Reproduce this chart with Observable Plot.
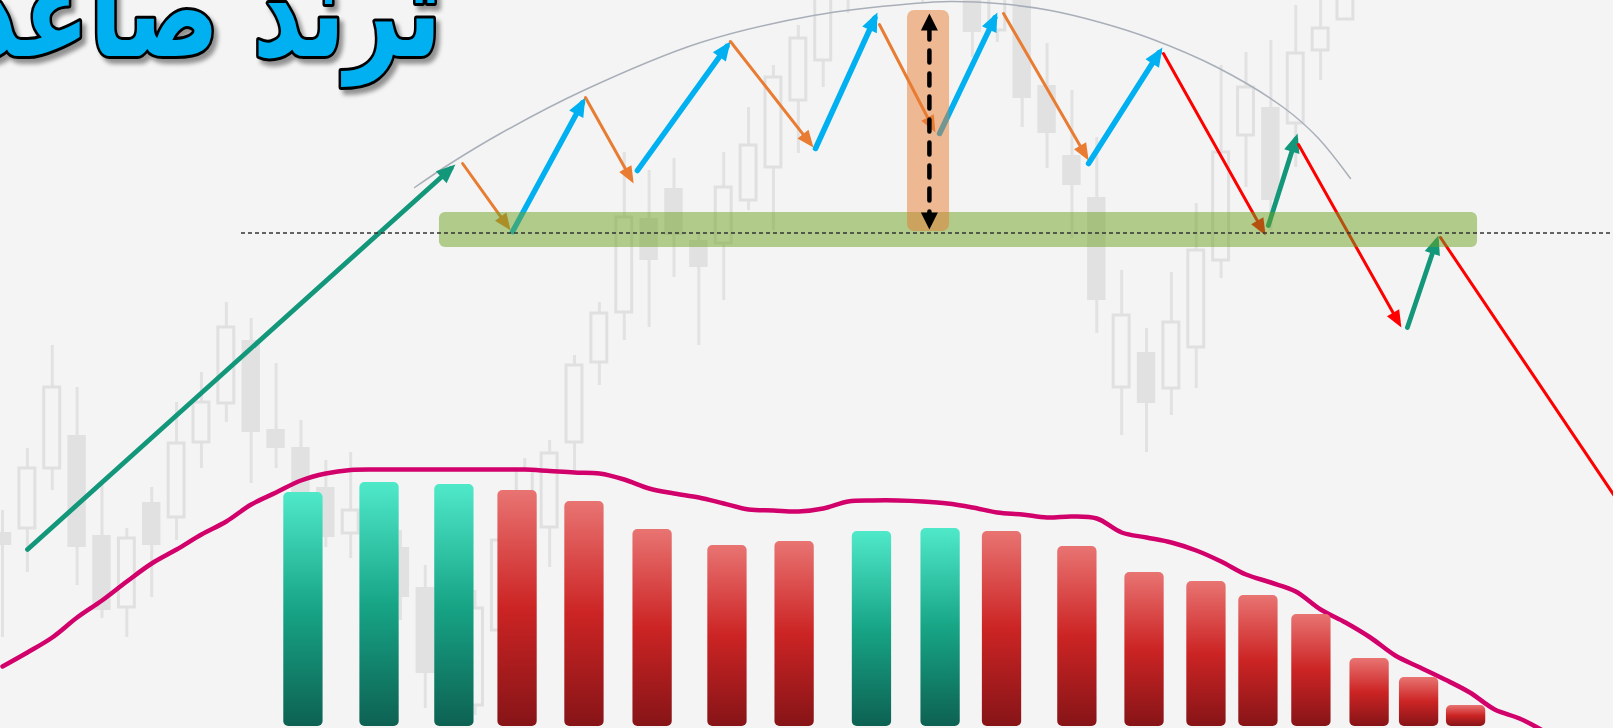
<!DOCTYPE html>
<html>
<head>
<meta charset="utf-8">
<script src="https://cdn.jsdelivr.net/npm/d3@7"></script>
<script src="https://cdn.jsdelivr.net/npm/@observablehq/plot@0.6"></script>
<style>
html,body{margin:0;padding:0;background:#f4f4f4;overflow:hidden}
svg{display:block}
</style>
</head>
<body>
<div id="chart"></div>
<script>
// ---------- data ----------
const titleText = "ترند صاعد";

// candles (index = period), prices in points
const candleOpen  = [196,200,260,293,193,121,226,211,286,325,388,299,281,241,195,133,181,141,48,23,98,188,201,286,366,416,510,540,488,485,528,561,628,668,738,798,788,768,740,738,698,733,643,573,531,341,376,340,381,468,593,621,605,678,709];
const candleClose = [183,260,341,181,118,190,183,285,326,401,296,280,228,191,218,198,131,55,118,120,188,258,275,363,415,511,468,493,461,541,583,651,690,733,768,758,748,736,773,696,743,630,595,543,428,413,325,406,478,576,641,528,675,700,733];
const candleHigh  = [218,280,383,341,248,200,241,326,356,426,410,365,308,268,276,223,198,163,138,138,203,270,288,373,426,576,558,570,495,576,621,663,703,743,778,808,798,778,783,748,753,743,685,638,591,458,400,456,525,663,676,688,723,735,743];
const candleLow   = [91,156,238,143,110,91,131,188,260,306,245,260,213,181,170,98,108,20,28,13,83,168,161,258,343,388,401,451,383,428,518,498,575,641,715,743,733,726,730,671,686,601,560,490,395,293,276,313,340,450,541,498,561,648,709];

// moving average, one value per period
const maValue = [62,76,91,111,128,147,165,179,194,207,224,236,248,255,258.5,259,259,259,259,259,259,259,257.5,256,255,249,240,235,231,225,219,218,217,220,227,228,228,227,225,221,216,214,211,212,210,196,191,186,178,167,154,146,137,119,106,91,73,61,49,36,19,10,-3];

// histogram bars
const barPeriod = [12.10,15.16,18.17,20.71,23.40,26.14,29.15,31.85,34.96,37.72,40.19,43.22,45.92,48.41,50.50,52.63,54.97,56.96,58.85];
const barValue  = [236,246,244,238,227,199,183,187,197,200,197,182,156,147,133,114,70,51,23];
const barRising = [true,true,true,false,false,false,false,false,true,true,false,false,false,false,false,false,false,false,false];

// rounding top (arc)
const arcPeriod = [16.57,18.01,20.02,23.36,28.07,32.61,36.63,38.12,40.13,42.14,44.15,46.16,48.85,51.51,52.88,54.20];
const arcPrice  = [541,565,595,638,686,713,725,727,724.7,718,706,690,661,621,591,550];

// swing arrows
const arrowKind = ["up","pull","swing","pull","swing","pull","swing","pull","swing","pull","swing","drop","up","drop","up","drop"];
const arrowFromPeriod = [1.005,18.50,20.51,23.44,25.53,29.27,32.69,35.26,37.68,40.25,43.67,46.68,50.90,52.11,56.49,57.82];
const arrowFromPrice  = [179,565,497,631,558,687,580,704,595,715,565,675,503,584,401,491];
const arrowToPeriod   = [18.03,20.29,23.32,25.26,29.13,32.46,35.08,37.40,39.90,43.55,46.51,50.67,52.00,56.13,57.66,65.86];
const arrowToPrice    = [560,502.9,625.7,550.2,682.1,585.7,710.5,601.3,710.6,573.2,675.9,498.2,589.3,406.2,487.3,194];

// support zone, level and range measure
const zonePeriod = [17.57, 59.31];
const zonePrice  = [481, 516];
const levelPrice = [495.5];
const levelFrom  = 9.61;
const rangePeriod = [36.39, 38.08];
const rangePrice  = [497, 718];
const measurePeriod = [37.27];
const measurePrice  = [505, 709];

// ---------- tables ----------
const candles = candleOpen.map((o, i) => ({i, o, c: candleClose[i], h: candleHigh[i], l: candleLow[i]}));
const upC = candles.filter(d => d.c >= d.o);
const downC = candles.filter(d => d.c < d.o);
const ma = maValue.map((v, i) => ({i, v}));
const bars = barPeriod.map((t, k) => ({t, v: barValue[k], up: barRising[k]}));
const arc = arcPeriod.map((t, k) => ({t, p: arcPrice[k]}));
const arrows = arrowKind.map((k, j) => ({k, x1: arrowFromPeriod[j], y1: arrowFromPrice[j], x2: arrowToPeriod[j], y2: arrowToPrice[j]}));

const kindColor = {up: "#13977a", swing: "#00b0f0", pull: "#e87c32", drop: "#ff0000"};
const kindWidth = {up: 4.8, swing: 5.5, pull: 3, drop: 3};

const NS = "http://www.w3.org/2000/svg";
function head(len, wid, back) {
  return (color) => {
    const m = document.createElementNS(NS, "marker");
    m.setAttribute("viewBox", `0 ${-wid / 2} ${len} ${wid}`);
    m.setAttribute("markerUnits", "userSpaceOnUse");
    m.setAttribute("markerWidth", len);
    m.setAttribute("markerHeight", wid);
    m.setAttribute("refX", len - back);
    m.setAttribute("refY", 0);
    m.setAttribute("orient", "auto-start-reverse");
    m.setAttribute("overflow", "visible");
    const p = document.createElementNS(NS, "path");
    p.setAttribute("d", `M0,${-wid / 2}L${len},0L0,${wid / 2}Z`);
    p.setAttribute("fill", color);
    p.setAttribute("stroke", "none");
    m.appendChild(p);
    return m;
  };
}
const thickHead = head(19, 16, 6);
const thinHead = head(17, 14, 6);
const arrowHead = (color, ctx) => (color === kindColor.pull || color === kindColor.drop ? thinHead : thickHead)(color, ctx);
const blackHead = head(17, 17, 6);

const svg = Plot.plot({
  width: 1613,
  height: 728,
  margin: 0,
  style: {background: "#f4f4f4"},
  x: {domain: [-0.0804, 64.777], axis: null},
  y: {domain: [0, 728], axis: null},
  color: {domain: Object.keys(kindColor), range: Object.values(kindColor)},
  marks: [
    Plot.ruleX(candles, {x: "i", y1: "l", y2: "h", stroke: "#e2e2e2", strokeWidth: 3, clip: true}),
    Plot.rect(downC, {x1: d => d.i - 0.37, x2: d => d.i + 0.37, y1: "c", y2: "o", fill: "#e1e1e1", clip: true}),
    Plot.rect(upC, {x1: d => d.i - 0.32, x2: d => d.i + 0.32, y1: "o", y2: "c", fill: "#f4f4f4", stroke: "#e0e0e0", strokeWidth: 3, clip: true}),
    Plot.line(ma, {x: "i", y: "v", stroke: "#d1006b", strokeWidth: 4.5, curve: "catmull-rom", strokeLinecap: "round", clip: true}),
    Plot.rect(bars.filter(d => d.up), {x1: d => d.t - 0.79, x2: d => d.t + 0.79, y1: 2, y2: "v", fill: "url(#tealGrad)", rx: 5}),
    Plot.rect(bars.filter(d => !d.up), {x1: d => d.t - 0.79, x2: d => d.t + 0.79, y1: 2, y2: "v", fill: "url(#redGrad)", rx: 5}),
    Plot.line(arc, {x: "t", y: "p", curve: "catmull-rom", stroke: "#a9afb9", strokeWidth: 1.5}),
    Plot.link(arrows, {x1: "x1", y1: "y1", x2: "x2", y2: "y2", stroke: "k", strokeWidth: d => kindWidth[d.k], strokeLinecap: "round", markerEnd: arrowHead, clip: true}),
    Plot.rect([0], {x1: zonePeriod[0], x2: zonePeriod[1], y1: zonePrice[0], y2: zonePrice[1], fill: "#6ca220", fillOpacity: 0.5, rx: 6}),
    Plot.rect([0], {x1: rangePeriod[0], x2: rangePeriod[1], y1: rangePrice[0], y2: rangePrice[1], fill: "#e87c32", fillOpacity: 0.5, rx: 7}),
    Plot.ruleY(levelPrice, {x1: levelFrom, x2: 64.777, stroke: "#333", strokeWidth: 1.5, strokeDasharray: "4,3"}),
    Plot.link(measurePeriod, {x1: d => d, x2: d => d, y1: measurePrice[0], y2: measurePrice[1], stroke: "#000", strokeWidth: 4.5, strokeDasharray: "12,11", strokeLinecap: "round", markerStart: blackHead, markerEnd: blackHead}),
    Plot.text([titleText], {
      text: d => d, frameAnchor: "top-left", dx: 441, dy: 55, textAnchor: "end", lineAnchor: "bottom",
      fontSize: 128, fontWeight: "bold", fontFamily: "'DejaVu Sans Condensed', 'DejaVu Sans', sans-serif",
      fill: "#00b0f0", stroke: "#000", strokeWidth: 6, strokeLinejoin: "round", paintOrder: "stroke",
      imageFilter: "drop-shadow(4px 5px 2px rgba(0,0,0,0.4))"
    })
  ]
});

// gradient definitions for histogram bars
const defs = d3.create("svg:defs");
const g1 = defs.append("linearGradient").attr("id", "tealGrad").attr("x1", 0).attr("y1", 0).attr("x2", 0).attr("y2", 1);
g1.append("stop").attr("offset", "0%").attr("stop-color", "#4fe9ca");
g1.append("stop").attr("offset", "50%").attr("stop-color", "#17a586");
g1.append("stop").attr("offset", "100%").attr("stop-color", "#0d6152");
const g2 = defs.append("linearGradient").attr("id", "redGrad").attr("x1", 0).attr("y1", 0).attr("x2", 0).attr("y2", 1);
g2.append("stop").attr("offset", "0%").attr("stop-color", "#e87472");
g2.append("stop").attr("offset", "50%").attr("stop-color", "#cc2424");
g2.append("stop").attr("offset", "100%").attr("stop-color", "#861417");
svg.insertBefore(defs.node(), svg.firstChild);

document.getElementById("chart").appendChild(svg);

// narrow the title glyphs to the reference's proportions
d3.select(svg).selectAll('g[aria-label="text"] text').each(function () {
  const w = this.getComputedTextLength();
  if (w > 0) {
    this.setAttribute("lengthAdjust", "spacingAndGlyphs");
    this.setAttribute("textLength", (w * 0.84).toFixed(1));
  }
});
</script>
</body>
</html>
